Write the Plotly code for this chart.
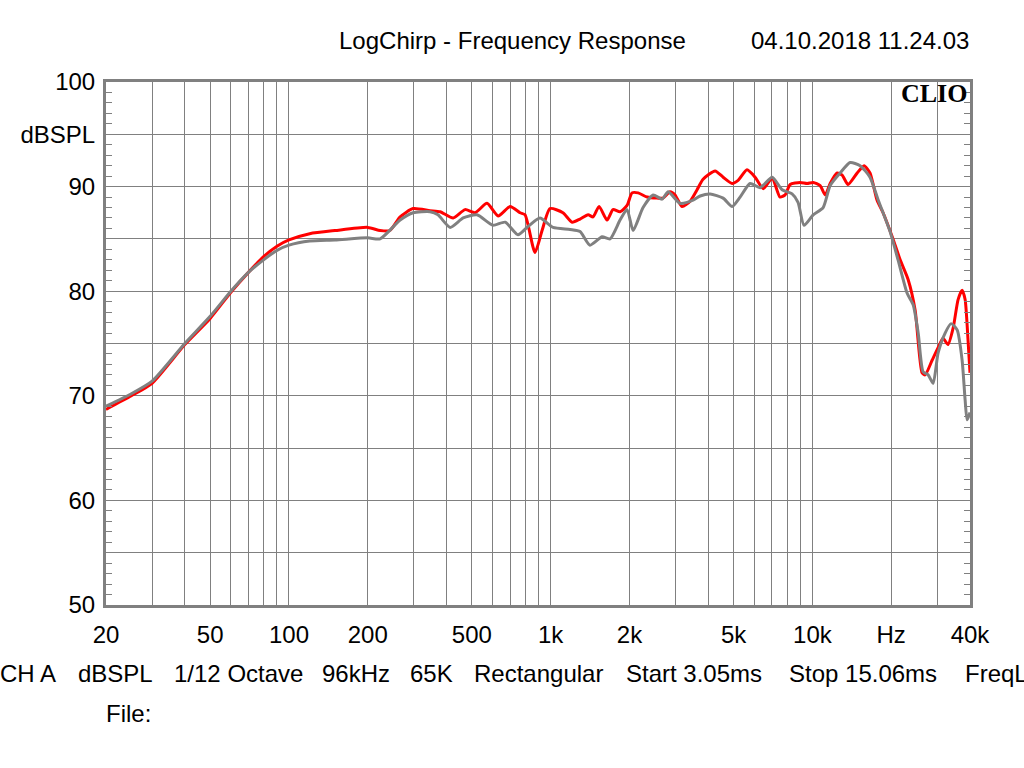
import math
import plotly.graph_objects as go

# ---- data ----
red_freq = [20, 25, 30, 40, 50, 60, 70, 80, 90, 100, 120, 150, 200, 223, 243, 266, 298, 346, 378, 424,
            471, 514, 571, 630, 700, 764, 798, 871, 927, 994, 1114, 1208, 1295, 1390, 1452, 1531, 1642,
            1730, 1841, 1958, 2046, 2158, 2336, 2550, 2689, 2858, 2987, 3176, 3410, 3625, 3822, 4248,
            4559, 4933, 5200, 5626, 6040, 6486, 7017, 7520, 7864, 8222, 8974, 9544, 10068, 10704, 11188,
            11688, 12424, 12986, 13680, 14826, 15748, 16596, 17660, 18620, 20180, 21640, 23220, 24680,
            26240, 26960, 28660, 30220, 31560, 32960, 34500, 36020, 37320, 38320, 39320, 40000]
red_db = [68.7, 70.0, 71.2, 74.9, 77.4, 79.9, 81.8, 83.3, 84.3, 84.9, 85.5, 85.8, 86.1, 85.8, 85.8, 87.1,
          87.9, 87.7, 87.6, 87.0, 87.8, 87.5, 88.4, 87.2, 88.1, 87.5, 87.3, 83.7, 85.8, 87.9, 87.5, 86.6,
          86.9, 87.3, 87.1, 88.1, 86.8, 87.8, 87.6, 88.2, 89.4, 89.4, 89.0, 88.9, 88.9, 89.5, 89.2, 88.1,
          88.6, 89.7, 90.7, 91.5, 90.9, 90.3, 90.6, 91.6, 90.9, 89.8, 90.8, 89.0, 89.2, 90.2, 90.4, 90.3,
          90.4, 90.1, 89.2, 90.3, 91.3, 91.1, 90.2, 91.3, 92.0, 91.3, 88.7, 87.5, 85.2, 83.0, 81.1, 78.2,
          72.2, 72.0, 73.4, 74.6, 75.5, 74.9, 76.5, 79.2, 80.1, 79.2, 75.3, 72.2]

gray_freq = [20, 25, 30, 40, 50, 60, 70, 80, 90, 100, 120, 150, 200, 223, 266, 298, 346, 371, 413, 463,
             523, 602, 670, 750, 820, 910, 1021, 1186, 1295, 1413, 1572, 1686, 1841, 1958, 2065, 2254,
             2462, 2664, 2810, 3120, 3500, 3724, 4066, 4559, 4933, 5292, 5780, 6312, 7017, 7660, 8362,
             8812, 9290, 10068, 10990, 11688, 12760, 13932, 15214, 16596, 17850, 19800, 21240, 23010,
             24260, 25360, 26480, 27680, 28920, 30220, 32140, 33880, 35720, 37320, 38320, 39000, 40000]
gray_db = [69.0, 70.2, 71.4, 75.0, 77.6, 80.0, 81.8, 83.0, 83.9, 84.4, 84.8, 84.9, 85.1, 85.0, 86.8, 87.5,
           87.6, 87.3, 86.1, 87.0, 87.3, 86.3, 86.6, 85.4, 86.2, 87.0, 86.1, 85.9, 85.7, 84.4, 85.2, 85.0,
           86.8, 87.8, 85.8, 88.0, 89.2, 88.8, 89.5, 88.4, 88.7, 89.1, 89.3, 88.9, 88.1, 89.0, 90.3, 89.9,
           90.9, 89.7, 89.3, 88.5, 86.3, 87.3, 88.0, 90.1, 91.3, 92.3, 92.0, 90.9, 88.7, 85.7, 83.0, 79.8,
           78.7, 76.0, 72.3, 72.0, 71.2, 74.1, 76.0, 76.9, 76.3, 73.4, 69.6, 67.7, 68.4]

x_tickvals = [20, 30, 40, 50, 60, 70, 80, 90, 100, 200, 300, 400, 500, 600, 700, 800, 900,
              1000, 2000, 3000, 4000, 5000, 6000, 7000, 8000, 9000, 10000, 20000, 30000, 40000]
x_ticktext = ["20", "", "", "50", "", "", "", "", "100", "200", "", "", "500", "", "", "", "",
              "1k", "2k", "", "", "5k", "", "", "", "", "10k", "Hz", "", "40k"]
y_tickvals = [50, 55, 60, 65, 70, 75, 80, 85, 90, 95, 100]
y_ticktext = ["50", "", "60", "", "70", "", "80", "", "90", "dBSPL", "100"]
y_minor = [v for v in range(50, 101) if v % 5]

title_text = "LogChirp - Frequency Response"
date_text = "04.10.2018 11.24.03"
footer_items = ["CH A", "dBSPL", "1/12 Octave", "96kHz", "65K", "Rectangular",
                "Start 3.05ms", "Stop 15.06ms", "FreqL"]
footer_px = [0, 78, 174, 322, 410, 474, 626, 789, 965]

# ---- layout geometry (window pixels; body margin removed by post_script) ----
W, H = 1024, 768
L, R, T, B = 106, 970, 82, 605
pw, ph = R - L, B - T
def px_x(p): return (p - L) / pw
def px_y(p): return (B - p) / ph

GRID = "#808080"
FONT = "Liberation Sans, Arial, sans-serif"
FS = 24

fig = go.Figure()
fig.add_trace(go.Scatter(x=red_freq, y=red_db, mode="lines",
                         line=dict(color="#ff0000", width=3, shape="spline", smoothing=0.6),
                         hoverinfo="skip", showlegend=False))
fig.add_trace(go.Scatter(x=gray_freq, y=gray_db, mode="lines",
                         line=dict(color="#808080", width=3, shape="spline", smoothing=0.6),
                         hoverinfo="skip", showlegend=False))
# helper trace so the right-hand tick axis is drawn
fig.add_trace(go.Scatter(x=[20], y=[50], yaxis="y2", mode="markers", marker=dict(opacity=0),
                         hoverinfo="skip", showlegend=False))

fig.update_layout(
    width=W, height=H,
    margin=dict(l=L, r=W - R, t=T, b=H - B, pad=0),
    paper_bgcolor="white", plot_bgcolor="white",
    font=dict(family=FONT, size=FS, color="black"),
    xaxis=dict(type="log", range=[math.log10(20), math.log10(40000)],
               tickmode="array", tickvals=x_tickvals, ticktext=x_ticktext,
               showgrid=True, gridcolor=GRID, gridwidth=1,
               showline=True, linecolor=GRID, linewidth=3, mirror=True,
               ticks="", ticklabelstandoff=6, zeroline=False,
               tickfont=dict(family=FONT, size=FS, color="black")),
    yaxis=dict(range=[50, 100], tickmode="array", tickvals=y_tickvals, ticktext=y_ticktext,
               showgrid=True, gridcolor=GRID, gridwidth=1,
               showline=True, linecolor=GRID, linewidth=3, mirror=True,
               ticks="", zeroline=False, ticklabelstandoff=3,
               tickfont=dict(family=FONT, size=FS, color="black"),
               minor=dict(tickmode="array", tickvals=y_minor, ticks="inside", ticklen=6,
                          tickcolor=GRID, tickwidth=1, showgrid=False)),
    yaxis2=dict(range=[50, 100], overlaying="y", side="right", showgrid=False,
                showticklabels=False, ticks="", zeroline=False, showline=False,
                minor=dict(tickmode="array", tickvals=y_minor, ticks="inside", ticklen=6,
                           tickcolor=GRID, tickwidth=1, showgrid=False)),
)

ann = []
ann.append(dict(text=title_text, x=px_x(512), y=px_y(40), xref="paper", yref="paper",
                xanchor="center", yanchor="middle", showarrow=False, font=dict(size=FS)))
ann.append(dict(text=date_text, x=px_x(971), y=px_y(40), xref="paper", yref="paper",
                xanchor="right", yanchor="middle", showarrow=False, font=dict(size=FS)))
ann.append(dict(text="<b>CLIO</b>", x=px_x(969), y=px_y(93), xref="paper", yref="paper",
                xanchor="right", yanchor="middle", showarrow=False,
                font=dict(family="Liberation Serif, Times New Roman, serif", size=26, color="black")))
for t, p in zip(footer_items, footer_px):
    ann.append(dict(text=t, x=px_x(p - 2), y=px_y(673), xref="paper", yref="paper",
                    xanchor="left", yanchor="middle", showarrow=False, font=dict(size=FS)))
ann.append(dict(text="File:", x=px_x(104), y=px_y(713), xref="paper", yref="paper",
                xanchor="left", yanchor="middle", showarrow=False, font=dict(size=FS)))
fig.update_layout(annotations=ann)

fig.write_html("out.html", config={"displayModeBar": False},
               post_script="document.body.style.margin='0';document.body.style.overflow='hidden';")
